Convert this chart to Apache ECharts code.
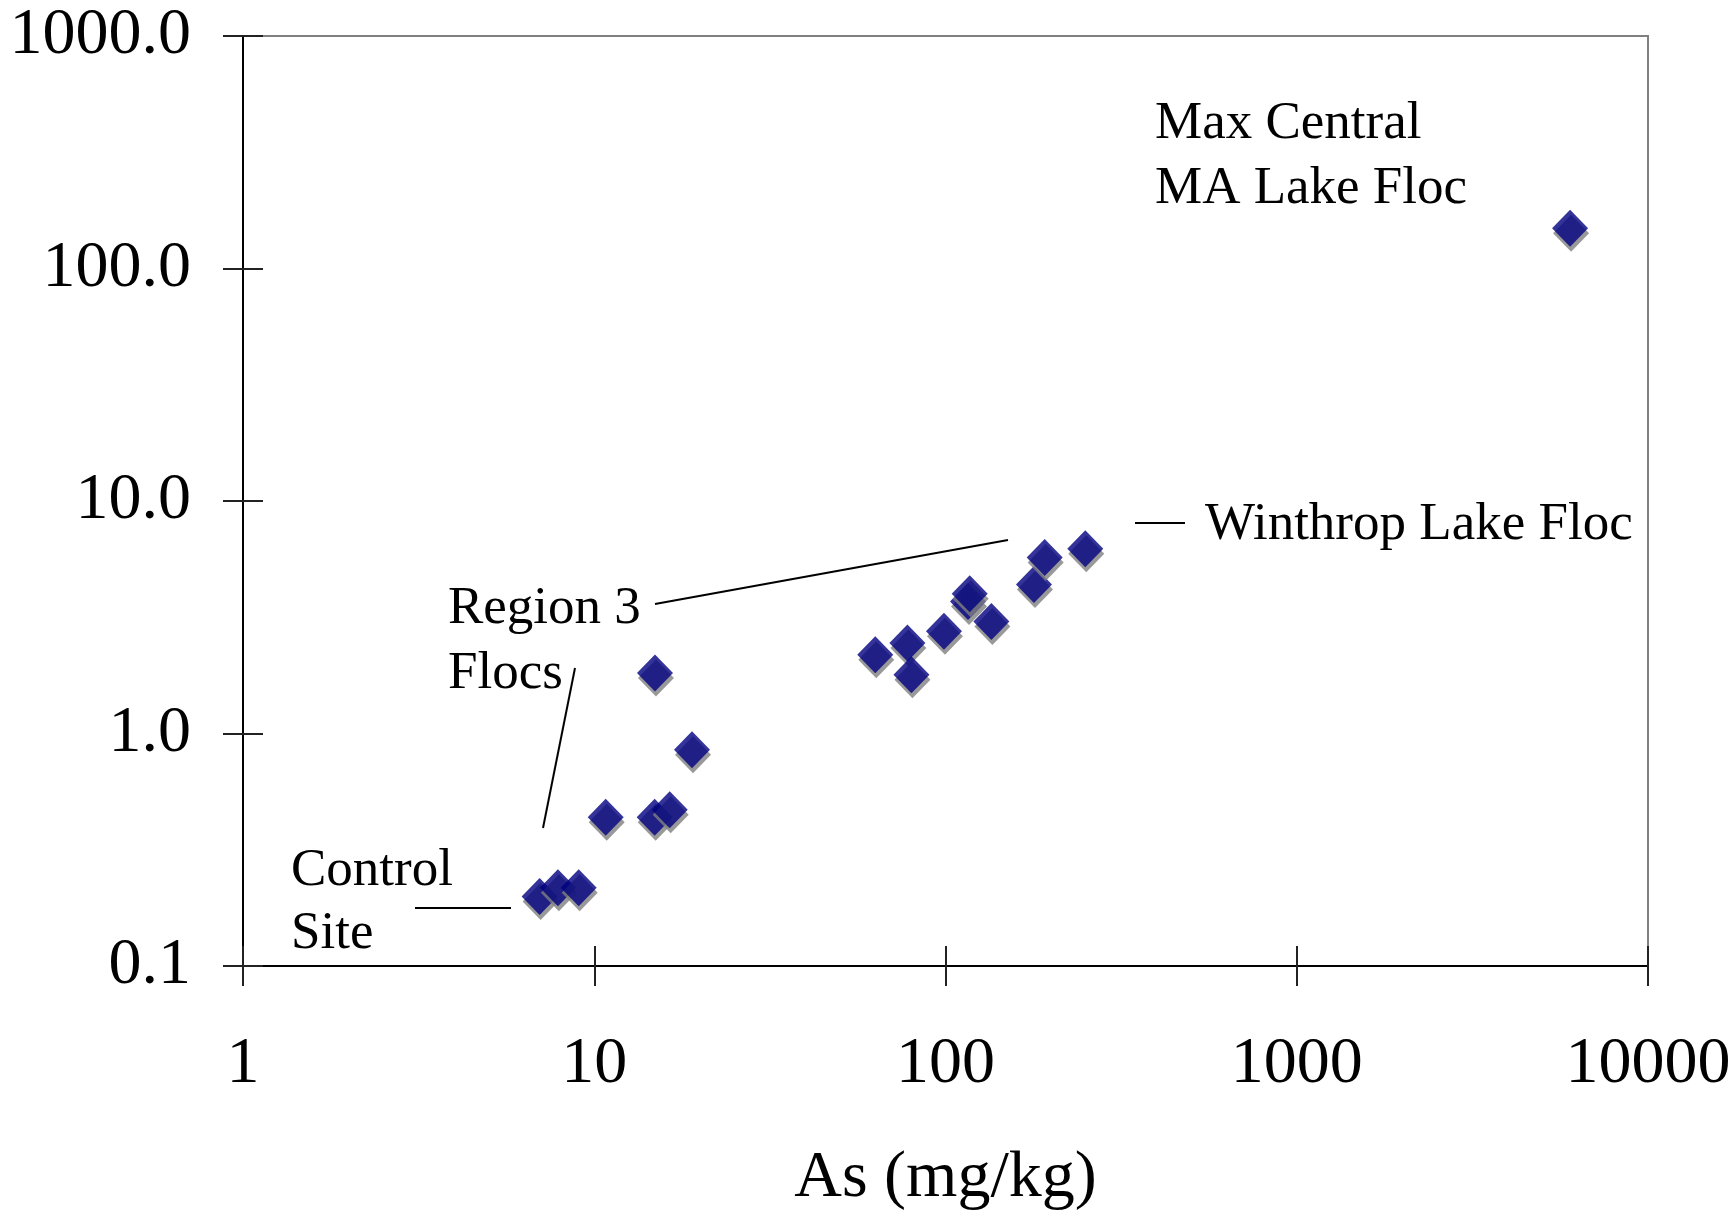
<!DOCTYPE html>
<html>
<head>
<meta charset="utf-8">
<script src="https://cdn.jsdelivr.net/npm/echarts@6/dist/echarts.min.js"></script>
<style>
  html, body { margin: 0; padding: 0; background: #fff; }
  #chart { width: 1736px; height: 1210px; }
</style>
</head>
<body>
<div id="chart"></div>
<script>
// Arsenic in floc samples (x) against the paired measurement (y), both on log scales
const asValues = [6.99, 7.88, 9.03, 10.78, 14.86, 16.4, 18.98, 14.89, 63.1, 77.9, 80.0, 99.0, 115.9, 117.2, 135.1, 178.6, 191.6, 250, 6000];
const yValues  = [0.199, 0.217, 0.217, 0.436, 0.436, 0.470, 0.851, 1.82, 2.18, 2.45, 1.79, 2.75, 3.70, 3.99, 3.03, 4.37, 5.72, 6.23, 149];

const xTicks = [1, 10, 100, 1000, 10000];
const yTicks = [0.1, 1, 10, 100, 1000];

const xTitle = 'As (mg/kg)';
const notes = {
  maxCentral: ['Max Central', 'MA Lake Floc'],
  winthrop: 'Winthrop Lake Floc',
  region3: ['Region 3', 'Flocs'],
  control: ['Control', 'Site']
};

const FONT = '"Liberation Serif", "Times New Roman", serif';
const points = asValues.map((x, i) => [x, yValues[i]]);

const chart = echarts.init(document.getElementById('chart'), null, { renderer: 'canvas' });

const noteText = (text, x, y) => ({
  type: 'text',
  x: x, y: y,
  style: {
    text: text,
    fontFamily: FONT,
    fontSize: 53,
    fill: '#000',
    align: 'left',
    verticalAlign: 'middle'
  }
});
const leader = (x1, y1, x2, y2) => ({
  type: 'line',
  shape: { x1, y1, x2, y2 },
  style: { stroke: '#000', lineWidth: 2 }
});

const baseX = { type: 'log', logBase: 10, min: xTicks[0], max: xTicks[xTicks.length - 1], gridIndex: 0 };
const baseY = { type: 'log', logBase: 10, min: yTicks[0], max: yTicks[yTicks.length - 1], gridIndex: 0 };

chart.setOption({
  animation: false,
  backgroundColor: '#fff',
  grid: {
    left: 243, right: 88, top: 36, bottom: 244,
    containLabel: false,
    outerBoundsMode: 'none',
    show: true, borderColor: '#808080', borderWidth: 2, backgroundColor: 'transparent'
  },
  xAxis: [
    Object.assign({}, baseX, {
      position: 'bottom',
      name: xTitle,
      nameLocation: 'middle',
      nameGap: 213,
      nameTextStyle: { fontFamily: FONT, fontSize: 66, color: '#000', verticalAlign: 'middle' },
      axisLine: { show: true, lineStyle: { color: '#000', width: 2 } },
      axisTick: { show: true, inside: false, length: 20, lineStyle: { color: '#222', width: 2 } },
      axisLabel: {
        show: true, margin: 99, verticalAlign: 'middle',
        fontFamily: FONT, fontSize: 66, color: '#000',
        formatter: v => String(Math.round(v))
      },
      splitLine: { show: false },
      minorTick: { show: false }
    }),
    Object.assign({}, baseX, {
      position: 'bottom',
      axisLine: { show: false },
      axisTick: { show: true, inside: true, length: 20, lineStyle: { color: '#222', width: 2 } },
      axisLabel: { show: false },
      splitLine: { show: false }
    })
  ],
  yAxis: [
    Object.assign({}, baseY, {
      position: 'left',
      axisLine: { show: true, lineStyle: { color: '#000', width: 2 } },
      axisTick: { show: true, inside: false, length: 20, lineStyle: { color: '#222', width: 2 } },
      axisLabel: {
        show: true, margin: 52, padding: [7, 0, 0, 0],
        fontFamily: FONT, fontSize: 66, color: '#000',
        formatter: v => Number(v).toFixed(1)
      },
      splitLine: { show: false },
      minorTick: { show: false }
    }),
    Object.assign({}, baseY, {
      position: 'left',
      axisLine: { show: false },
      axisTick: { show: true, inside: true, length: 20, lineStyle: { color: '#222', width: 2 } },
      axisLabel: { show: false },
      splitLine: { show: false }
    })
  ],
  series: [{
    type: 'scatter',
    xAxisIndex: 0,
    yAxisIndex: 0,
    data: points,
    symbol: 'diamond',
    symbolSize: [36, 37],
    itemStyle: {
      color: '#000080',
      shadowColor: '#808080',
      shadowBlur: 0,
      shadowOffsetX: 1,
      shadowOffsetY: 5
    },
    emphasis: { disabled: true }
  }],
  graphic: [
    noteText(notes.maxCentral[0], 1155, 124),
    noteText(notes.maxCentral[1], 1155, 189),
    noteText(notes.winthrop, 1205, 525),
    leader(1135, 523, 1185, 523),
    noteText(notes.region3[0], 448, 609),
    noteText(notes.region3[1], 448, 674),
    leader(655, 604, 1008, 540),
    leader(575, 668, 543, 828),
    noteText(notes.control[0], 291, 871),
    noteText(notes.control[1], 291, 934),
    leader(415, 908, 511, 908)
  ]
});
</script>
</body>
</html>
